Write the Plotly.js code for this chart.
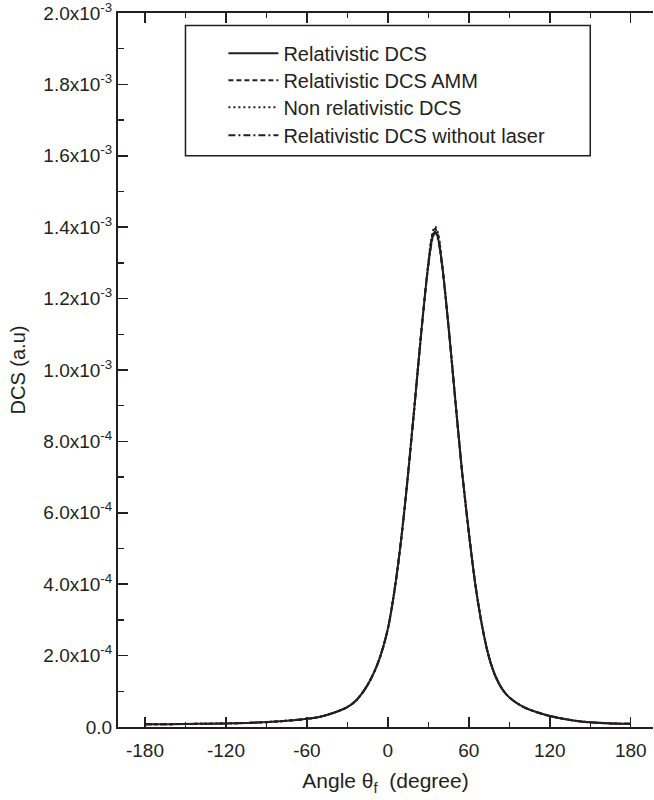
<!DOCTYPE html>
<html>
<head>
<meta charset="utf-8">
<script src="https://cdn.plot.ly/plotly-3.0.1.min.js"></script>
<style>html,body{margin:0;padding:0;background:#fff;overflow:hidden;}</style>
</head>
<body>
<div id="chart" style="width:654px;height:800px;"></div>
<script>
// Angle theta_f (degree)
const angles = [-180,-160,-140,-120,-100,-80,-70,-60,-50,-40,-30,-25,-20,-15,-10,-5,0,5,10,15,20,25,30,33,35,37,40,45,50,55,60,65,70,75,80,85,90,100,110,120,130,140,150,165,180];
// DCS values (a.u.)
const relDCS     = [0.008e-3,0.008e-3,0.009e-3,0.010e-3,0.012e-3,0.016e-3,0.019e-3,0.023e-3,0.029e-3,0.040e-3,0.056e-3,0.069e-3,0.090e-3,0.118e-3,0.155e-3,0.205e-3,0.275e-3,0.385e-3,0.530e-3,0.710e-3,0.910e-3,1.115e-3,1.295e-3,1.370e-3,1.388e-3,1.372e-3,1.300e-3,1.120e-3,0.915e-3,0.715e-3,0.545e-3,0.395e-3,0.280e-3,0.195e-3,0.140e-3,0.105e-3,0.083e-3,0.057e-3,0.042e-3,0.031e-3,0.023e-3,0.017e-3,0.013e-3,0.010e-3,0.009e-3];
const relDCSAMM  = [0.008e-3,0.008e-3,0.009e-3,0.010e-3,0.012e-3,0.016e-3,0.019e-3,0.023e-3,0.029e-3,0.040e-3,0.056e-3,0.069e-3,0.090e-3,0.118e-3,0.155e-3,0.205e-3,0.275e-3,0.385e-3,0.530e-3,0.710e-3,0.910e-3,1.115e-3,1.298e-3,1.378e-3,1.396e-3,1.380e-3,1.302e-3,1.120e-3,0.915e-3,0.715e-3,0.545e-3,0.395e-3,0.280e-3,0.195e-3,0.140e-3,0.105e-3,0.083e-3,0.057e-3,0.042e-3,0.031e-3,0.023e-3,0.017e-3,0.013e-3,0.010e-3,0.009e-3];
const nonRelDCS  = [0.008e-3,0.008e-3,0.009e-3,0.010e-3,0.012e-3,0.016e-3,0.019e-3,0.023e-3,0.029e-3,0.040e-3,0.056e-3,0.069e-3,0.090e-3,0.118e-3,0.155e-3,0.205e-3,0.275e-3,0.385e-3,0.530e-3,0.710e-3,0.910e-3,1.115e-3,1.300e-3,1.384e-3,1.401e-3,1.386e-3,1.304e-3,1.120e-3,0.915e-3,0.715e-3,0.545e-3,0.395e-3,0.280e-3,0.195e-3,0.140e-3,0.105e-3,0.083e-3,0.057e-3,0.042e-3,0.031e-3,0.023e-3,0.017e-3,0.013e-3,0.010e-3,0.009e-3];
const relNoLaser = [0.008e-3,0.008e-3,0.009e-3,0.010e-3,0.012e-3,0.016e-3,0.019e-3,0.023e-3,0.029e-3,0.040e-3,0.056e-3,0.069e-3,0.090e-3,0.118e-3,0.155e-3,0.205e-3,0.275e-3,0.385e-3,0.530e-3,0.710e-3,0.910e-3,1.115e-3,1.293e-3,1.366e-3,1.385e-3,1.368e-3,1.298e-3,1.120e-3,0.915e-3,0.715e-3,0.545e-3,0.395e-3,0.280e-3,0.195e-3,0.140e-3,0.105e-3,0.083e-3,0.057e-3,0.042e-3,0.031e-3,0.023e-3,0.017e-3,0.013e-3,0.010e-3,0.009e-3];

const seriesNames = ['Relativistic DCS','Relativistic DCS AMM','Non relativistic DCS','Relativistic DCS without laser'];
const xTickVals = [-180,-120,-60,0,60,120,180];
const xTickText = ['-180','-120','-60','0','60','120','180'];
const yTickVals = [0,0.2e-3,0.4e-3,0.6e-3,0.8e-3,1.0e-3,1.2e-3,1.4e-3,1.6e-3,1.8e-3,2.0e-3];
const yTickText = ['0.0','2.0x10<sup>-4</sup>','4.0x10<sup>-4</sup>','6.0x10<sup>-4</sup>','8.0x10<sup>-4</sup>','1.0x10<sup>-3</sup>','1.2x10<sup>-3</sup>','1.4x10<sup>-3</sup>','1.6x10<sup>-3</sup>','1.8x10<sup>-3</sup>','2.0x10<sup>-3</sup>'];

const ink = '#231f20';
const font = "Liberation Sans, Arial, Helvetica, sans-serif";
const legendIds = ['legend','legend2','legend3','legend4'];
const dashes = ['solid','5px,3px','2px,3px','7px,3px,2px,3px'];
const seriesY = [relDCS, relDCSAMM, nonRelDCS, relNoLaser];
const traces = seriesY.map((y, i) => ({
  x: angles, y: y, name: seriesNames[i], type: 'scatter', mode: 'lines',
  legend: legendIds[i],
  line: {color: ink, width: 2, dash: dashes[i], shape: 'spline', smoothing: 1}
}));

const legendYs = [0.9436, 0.9058, 0.8680, 0.8288];
const mkLegend = (y) => ({
  x: 0.197, xanchor: 'left', y: y, yanchor: 'middle',
  bgcolor: 'rgba(0,0,0,0)', borderwidth: 0,
  font: {family: font, size: 20, color: ink},
  itemwidth: 50
});

const layout = {
  width: 654, height: 800,
  margin: {l: 118, r: 1, t: 13, b: 73},
  paper_bgcolor: '#fff', plot_bgcolor: '#fff',
  font: {family: font, size: 19, color: ink},
  showlegend: true,
  legend: mkLegend(legendYs[0]),
  legend2: mkLegend(legendYs[1]),
  legend3: mkLegend(legendYs[2]),
  legend4: mkLegend(legendYs[3]),
  xaxis: {
    range: [-200, 196.5],
    tickmode: 'array', tickvals: xTickVals, ticktext: xTickText,
    ticks: 'inside', ticklen: 10, tickwidth: 1.5, tickcolor: ink,
    minor: {ticks: 'inside', ticklen: 5, tickwidth: 1.5, tickcolor: ink, dtick: 30, tick0: 0},
    showline: true, linewidth: 2, linecolor: ink, mirror: 'ticks',
    showgrid: false, zeroline: false,
    ticklabelstandoff: 5, ticklabeloverflow: 'allow',
    tickfont: {family: font, size: 19, color: ink},
    title: {text: 'Angle θ<sub>f</sub>\u00a0\u00a0(degree)', font: {family: font, size: 21, color: ink}, standoff: 14}
  },
  yaxis: {
    range: [0, 2.0e-3],
    tickmode: 'array', tickvals: yTickVals, ticktext: yTickText,
    ticks: 'inside', ticklen: 10, tickwidth: 1.5, tickcolor: ink,
    minor: {ticks: 'inside', ticklen: 6, tickwidth: 1.5, tickcolor: ink, dtick: 1e-4, tick0: 0},
    showline: true, linewidth: 2, linecolor: ink, mirror: false,
    showgrid: false, zeroline: false,
    ticklabeloverflow: 'allow',
    tickfont: {family: font, size: 19, color: ink},
    title: {text: 'DCS (a.u)', font: {family: font, size: 20, color: ink}, standoff: 12}
  },
  shapes: [{
    type: 'rect', xref: 'x', yref: 'y',
    x0: -150, x1: 150, y0: 1.6e-3, y1: 1.965e-3,
    line: {color: ink, width: 1.5}, fillcolor: 'rgba(0,0,0,0)', layer: 'below'
  }]
};

Plotly.newPlot('chart', traces, layout, {displayModeBar: false, staticPlot: true});
</script>
</body>
</html>
